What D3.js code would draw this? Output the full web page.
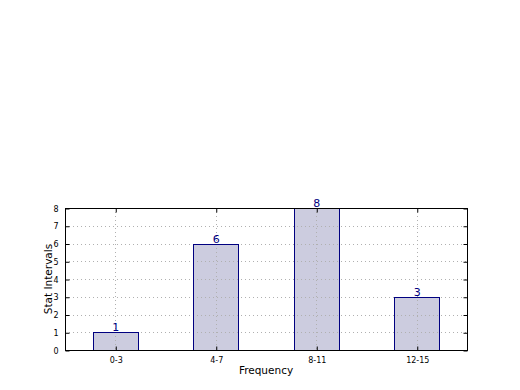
<!DOCTYPE html>
<html><head><meta charset="utf-8">
<script src="https://cdn.jsdelivr.net/npm/d3@7"></script>
<style>body{margin:0;background:#fff}svg{display:block}</style>
</head><body>
<script>
const categories = ["0-3", "4-7", "8-11", "12-15"];
const values = [1, 6, 8, 3];
const yTicks = [0, 1, 2, 3, 4, 5, 6, 7, 8];

const W = 520, H = 390;
const L = 65, R = 467, T = 208, B = 350;
const svg = d3.select("body").append("svg").attr("width", W).attr("height", H)
  .style("font-family", "'DejaVu Sans', sans-serif");

const x = d3.scaleLinear().domain([-0.5, categories.length - 0.5]).range([L, R]);
const y = d3.scaleLinear().domain([0, 8]).range([B, T]);
const bw = 0.45;

function bars(g, fill, stroke) {
  g.selectAll("rect").data(values).join("rect")
    .attr("x", (d, i) => Math.round(x(i - bw / 2)) + 0.5)
    .attr("y", d => Math.round(y(d)) + 0.5)
    .attr("width", (d, i) => Math.round(x(i + bw / 2)) - Math.round(x(i - bw / 2)))
    .attr("height", d => Math.round(y(0)) - Math.round(y(d)))
    .attr("fill", fill).attr("stroke", stroke).attr("stroke-width", 1);
}

// bar fills
bars(svg.append("g"), "#ccccdf", "none");

// grid
const grid = svg.append("g").attr("stroke", "#b0b0b0").attr("stroke-width", 1).attr("stroke-dasharray", "1,3");
yTicks.forEach(t => grid.append("line").attr("x1", L).attr("x2", R).attr("y1", Math.round(y(t)) + 0.5).attr("y2", Math.round(y(t)) + 0.5));
categories.forEach((c, i) => grid.append("line").attr("y1", T).attr("y2", B).attr("x1", Math.round(x(i)) + 0.5).attr("x2", Math.round(x(i)) + 0.5));

// bar outlines
bars(svg.append("g"), "none", "#000080");

// value labels
svg.append("g").selectAll("text").data(values).join("text")
  .attr("x", (d, i) => x(i) + 0.5).attr("y", d => y(d) - 1)
  .attr("text-anchor", "middle").attr("font-size", 11).attr("fill", "#000080")
  .text(d => d);

// axes
const yAxis = d3.axisLeft(y).tickValues(yTicks).tickSize(-4).tickPadding(7).tickFormat(d3.format("d"));
const gy = svg.append("g").attr("transform", `translate(${L + 0.5},0.5)`).call(yAxis);
const gyr = svg.append("g").attr("transform", `translate(${R + 0.5},0.5)`).call(d3.axisRight(y).tickValues(yTicks).tickSize(-4).tickFormat(""));
const xAxis = d3.axisBottom(x).tickValues(d3.range(categories.length)).tickSize(-4).tickPadding(7).tickFormat(i => categories[i]);
const gx = svg.append("g").attr("transform", `translate(0.5,${B + 0.5})`).call(xAxis);
const gxt = svg.append("g").attr("transform", `translate(0.5,${T + 0.5})`).call(d3.axisTop(x).tickValues(d3.range(categories.length)).tickSize(-4).tickFormat(""));
[gy, gyr, gx, gxt].forEach(g => {
  g.select(".domain").remove();
  g.selectAll("line").attr("stroke", "#000");
  g.selectAll("text").attr("font-size", 8).attr("fill", "#000").attr("font-family", "'DejaVu Sans', sans-serif");
});

// frame
svg.append("rect").attr("x", L + 0.5).attr("y", T + 0.5).attr("width", R - L).attr("height", B - T)
  .attr("fill", "none").attr("stroke", "#000").attr("stroke-width", 1);

// axis titles
svg.append("text").attr("x", (L + R) / 2).attr("y", 374).attr("text-anchor", "middle")
  .attr("font-size", 10.5).text("Frequency");
svg.append("text").attr("transform", `translate(52,${(T + B) / 2}) rotate(-90)`).attr("text-anchor", "middle")
  .attr("font-size", 10.5).text("Stat Intervals");
</script>
</body></html>
